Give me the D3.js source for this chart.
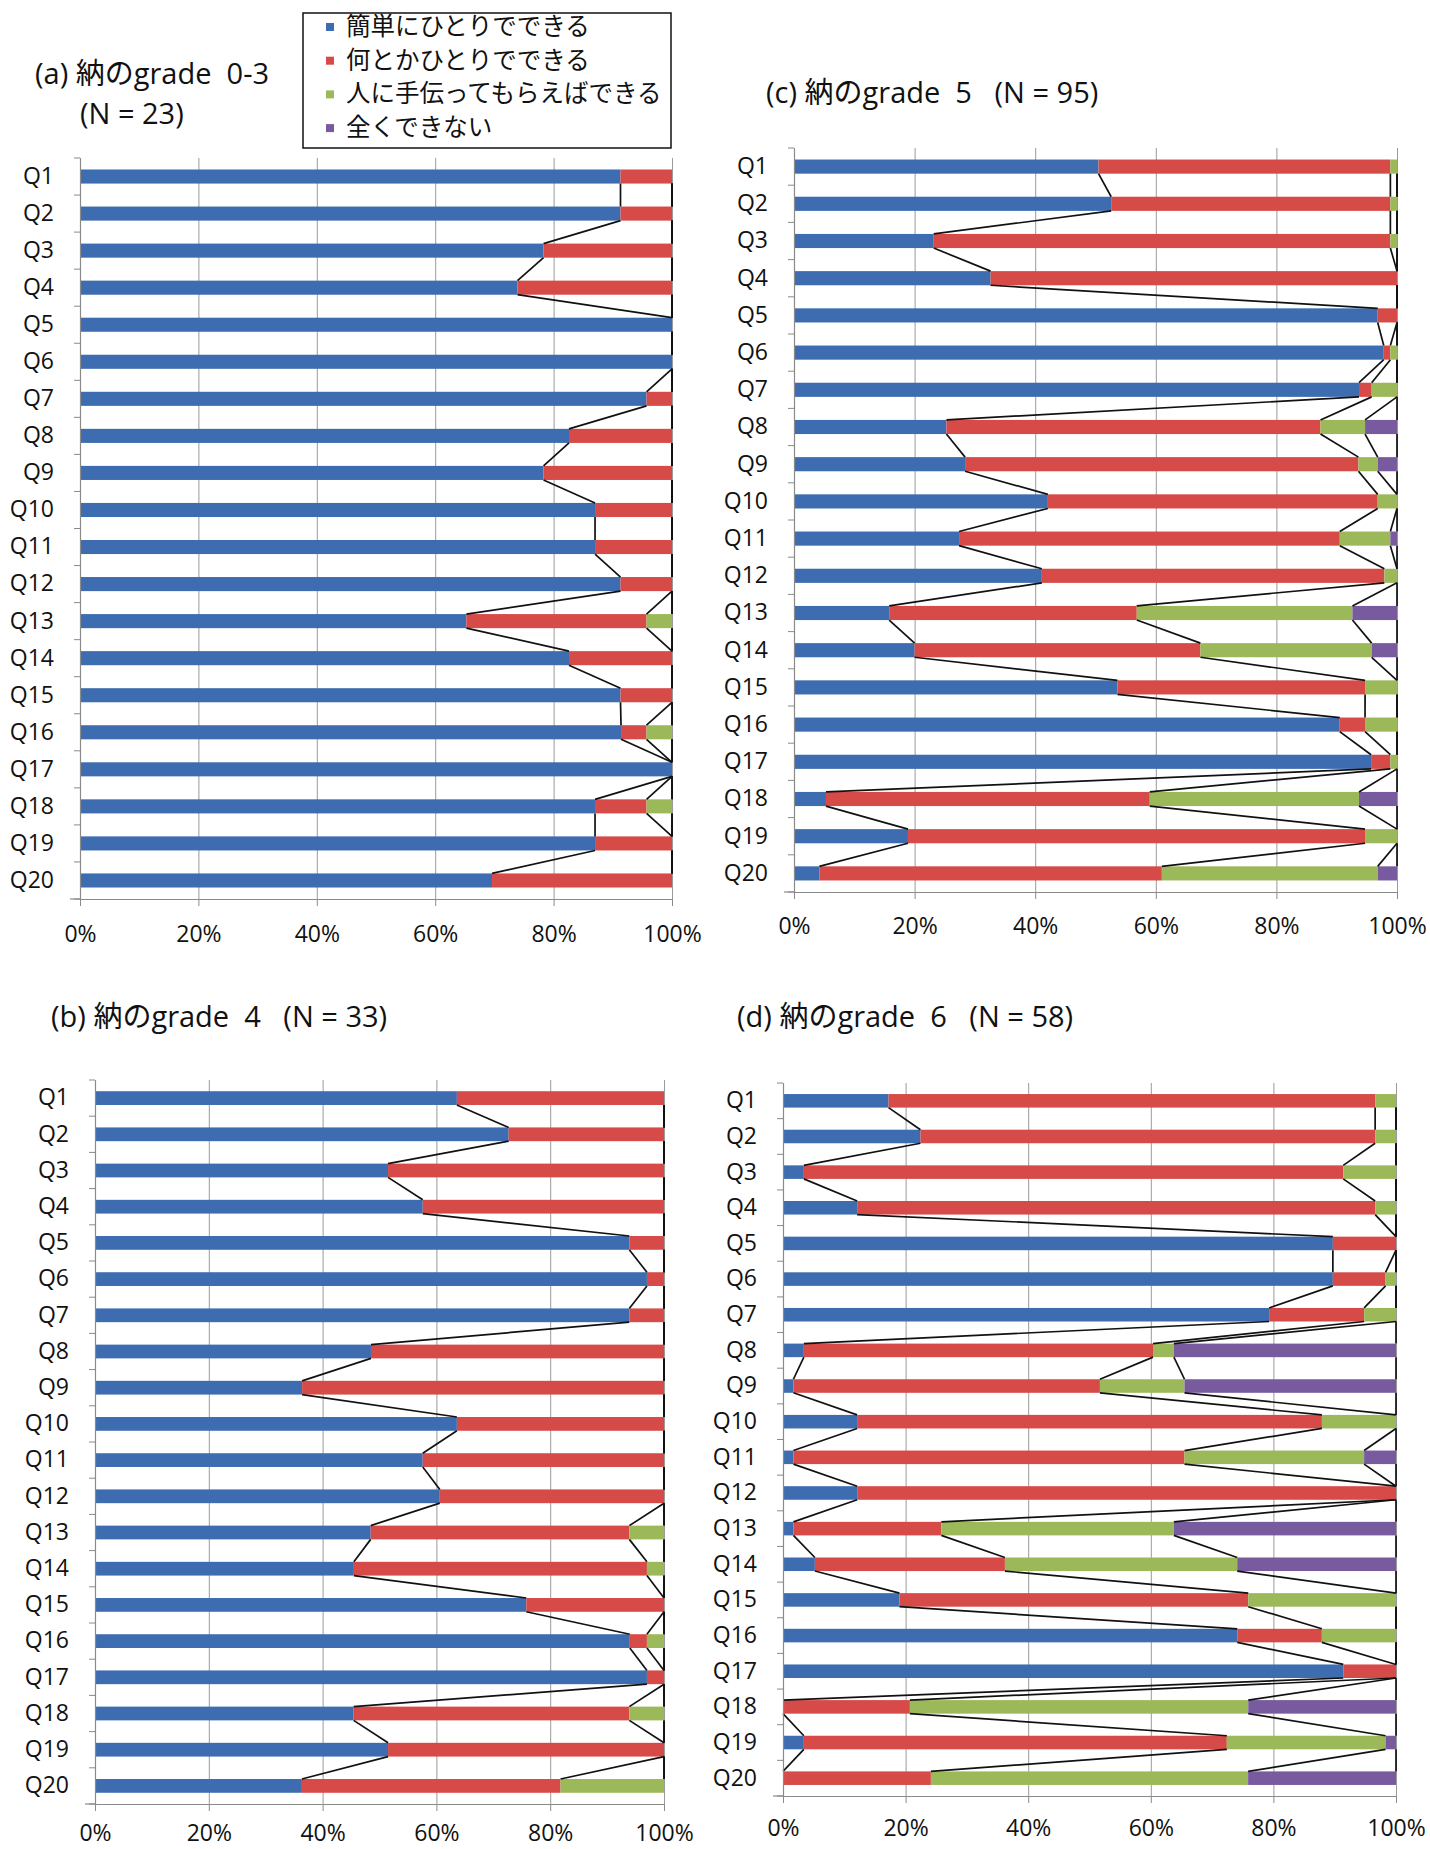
<!DOCTYPE html>
<html>
<head>
<meta charset="utf-8">
<script src="https://cdn.jsdelivr.net/npm/d3@7"></script>
<style>
  body { margin: 0; background: #fff; }
  text { font-family: "Open Sans", "Noto Sans CJK JP", sans-serif; fill: #111; }
  .title { white-space: pre; }
</style>
</head>
<body>
<svg id="chart" width="1430" height="1849"></svg>
<script>

// categories and legend
var questions = ["Q1","Q2","Q3","Q4","Q5","Q6","Q7","Q8","Q9","Q10",
                 "Q11","Q12","Q13","Q14","Q15","Q16","Q17","Q18","Q19","Q20"];
var legendLabels = ["簡単にひとりでできる", "何とかひとりでできる", "人に手伝ってもらえばできる", "全くできない"];
var xTicks = [0, 0.2, 0.4, 0.6, 0.8, 1];

// (a) grade 0-3, N = 23  (percent of answers)
var aEasy  = [91.3,91.3,78.3,73.9,100,100,95.7,82.6,78.3,87.0,87.0,91.3,65.2,82.6,91.3,91.3,100,87.0,87.0,69.6];
var aSome  = [8.7,8.7,21.7,26.1,0,0,4.3,17.4,21.7,13.0,13.0,8.7,30.4,17.4,8.7,4.3,0,8.7,13.0,30.4];
var aHelp  = [0,0,0,0,0,0,0,0,0,0,0,0,4.3,0,0,4.3,0,4.3,0,0];
var aNone  = [0,0,0,0,0,0,0,0,0,0,0,0,0,0,0,0,0,0,0,0];

// (b) grade 4, N = 33
var bEasy  = [63.6,72.7,51.5,57.6,93.9,97.0,93.9,48.5,36.4,63.6,57.6,60.6,48.5,45.5,75.8,93.9,97.0,45.5,51.5,36.4];
var bSome  = [36.4,27.3,48.5,42.4,6.1,3.0,6.1,51.5,63.6,36.4,42.4,39.4,45.5,51.5,24.2,3.0,3.0,48.5,48.5,45.5];
var bHelp  = [0,0,0,0,0,0,0,0,0,0,0,0,6.1,3.0,0,3.0,0,6.1,0,18.2];
var bNone  = [0,0,0,0,0,0,0,0,0,0,0,0,0,0,0,0,0,0,0,0];

// (c) grade 5, N = 95
var cEasy  = [50.5,52.6,23.2,32.6,96.8,97.9,93.7,25.3,28.4,42.1,27.4,41.1,15.8,20.0,53.7,90.5,95.8,5.3,18.9,4.2];
var cSome  = [48.4,46.3,75.8,67.4,3.2,1.1,2.1,62.1,65.3,54.7,63.2,56.8,41.1,47.4,41.1,4.2,3.2,53.7,75.8,56.8];
var cHelp  = [1.1,1.1,1.1,0,0,1.1,4.2,7.4,3.2,3.2,8.4,2.1,35.8,28.4,5.3,5.3,1.1,34.7,5.3,35.8];
var cNone  = [0,0,0,0,0,0,0,5.3,3.2,0,1.1,0,7.4,4.2,0,0,0,6.3,0,3.2];

// (d) grade 6, N = 58
var dEasy  = [17.2,22.4,3.4,12.1,89.7,89.7,79.3,3.4,1.7,12.1,1.7,12.1,1.7,5.2,19.0,74.1,91.4,0,3.4,0];
var dSome  = [79.3,74.1,87.9,84.5,10.3,8.6,15.5,56.9,50.0,75.9,63.8,87.9,24.1,31.0,56.9,13.8,8.6,20.7,69.0,24.1];
var dHelp  = [3.4,3.4,8.6,3.4,0,1.7,5.2,3.4,13.8,12.1,29.3,0,37.9,37.9,24.1,12.1,0,55.2,25.9,51.7];
var dNone  = [0,0,0,0,0,0,0,36.2,34.5,0,5.2,0,36.2,25.9,0,0,0,24.1,1.7,24.1];

var keys = ["easy", "some", "help", "none"];
var colors = ["#3d6db0", "#d64a47", "#9cb95a", "#785a9e"];

var svg = d3.select("#chart");
svg.append("rect").attr("width", 1430).attr("height", 1849).attr("fill", "#fff");

// panel placement
var panels = [
  { series: [aEasy, aSome, aHelp, aNone], x0: 80,  x1: 672,  y0: 158,  y1: 899,  pad: 20 },
  { series: [cEasy, cSome, cHelp, cNone], x0: 794, x1: 1397, y0: 148,  y1: 892,  pad: 19 },
  { series: [bEasy, bSome, bHelp, bNone], x0: 95,  x1: 664,  y0: 1080, y1: 1804, pad: 14 },
  { series: [dEasy, dSome, dHelp, dNone], x0: 783, x1: 1396, y0: 1083, y1: 1796, pad: 17 }
];

function drawPanel(p) {
  var rows = questions.map(function (q, i) {
    var r = { q: q };
    keys.forEach(function (k, j) { r[k] = p.series[j][i]; });
    return r;
  });
  var stacked = d3.stack().keys(keys).offset(d3.stackOffsetExpand)(rows);

  var x = d3.scaleLinear().domain([0, 1]).range([p.x0, p.x1]);
  var y = d3.scaleBand().domain(questions).range([p.y0, p.y1])
    .paddingInner(0.62).paddingOuter(0.31);

  var g = svg.append("g");

  // vertical gridlines
  g.append("g")
    .attr("transform", "translate(0," + p.y1 + ")")
    .call(d3.axisBottom(x).tickValues(xTicks).tickSize(-(p.y1 - p.y0)).tickFormat(""))
    .call(function (s) {
      s.select(".domain").remove();
      s.selectAll("line").attr("stroke", "#9a9a9a").attr("stroke-width", 1);
    });

  // stacked bars
  g.selectAll("g.series")
    .data(stacked)
    .enter().append("g")
      .attr("class", "series")
      .attr("fill", function (d, i) { return colors[i]; })
    .selectAll("rect")
    .data(function (d) { return d; })
    .enter().append("rect")
      .attr("x", function (d) { return x(d[0]); })
      .attr("width", function (d) { return Math.max(0, x(d[1]) - x(d[0])); })
      .attr("y", function (d) { return y(d.data.q); })
      .attr("height", y.bandwidth());

  // series lines between neighbouring bars
  stacked.forEach(function (s) {
    g.selectAll(null)
      .data(d3.pairs(s))
      .enter().append("line")
        .attr("x1", function (d) { return x(d[0][1]); })
        .attr("y1", function (d) { return y(d[0].data.q) + y.bandwidth(); })
        .attr("x2", function (d) { return x(d[1][1]); })
        .attr("y2", function (d) { return y(d[1].data.q); })
        .attr("stroke", "#111")
        .attr("stroke-width", 1.7);
  });

  // category axis
  var ya = g.append("g")
    .attr("transform", "translate(" + p.x0 + ",0)")
    .call(d3.axisLeft(y).tickSize(0).tickPadding(26))
    .attr("font-family", null).attr("font-size", null);
  ya.select(".domain").attr("stroke", "#8a8a8a").attr("stroke-width", 1.2);
  ya.selectAll("text").attr("font-size", 23).attr("fill", "#111");

  g.selectAll(null)
    .data(d3.range(questions.length + 1))
    .enter().append("line")
      .attr("x1", p.x0 - 6).attr("x2", p.x0)
      .attr("y1", function (i) { return p.y0 + i * y.step(); })
      .attr("y2", function (i) { return p.y0 + i * y.step(); })
      .attr("stroke", "#8a8a8a");

  // value axis
  var xa = g.append("g")
    .attr("transform", "translate(0," + p.y1 + ")")
    .call(d3.axisBottom(x).tickValues(xTicks).tickFormat(d3.format(".0%"))
      .tickSizeInner(7).tickSizeOuter(0).tickPadding(p.pad))
    .attr("font-family", null).attr("font-size", null);
  xa.select(".domain").attr("stroke", "#8a8a8a").attr("stroke-width", 1.2);
  xa.selectAll("line").attr("stroke", "#8a8a8a");
  xa.selectAll("text").attr("font-size", 23).attr("fill", "#111");
  g.append("line")
    .attr("x1", p.x0 - 10).attr("x2", p.x0)
    .attr("y1", p.y1).attr("y2", p.y1)
    .attr("stroke", "#8a8a8a").attr("stroke-width", 1.2);
}

panels.forEach(drawPanel);

// titles
function title(txt, tx, ty) {
  svg.append("text").attr("class", "title")
    .attr("x", tx).attr("y", ty).attr("dy", "0.36em")
    .attr("font-size", 29).text(txt);
}
title("(a) 納のgrade  0-3", 35, 74);
title("(N = 23)", 80, 114);
title("(c) 納のgrade  5   (N = 95)", 766, 93);
title("(b) 納のgrade  4   (N = 33)", 51, 1017);
title("(d) 納のgrade  6   (N = 58)", 737, 1017);

// legend
var legend = svg.append("g");
legend.append("rect")
  .attr("x", 303).attr("y", 13).attr("width", 368).attr("height", 135)
  .attr("fill", "#fff").attr("stroke", "#111").attr("stroke-width", 1.5);
var item = legend.selectAll("g.item")
  .data(legendLabels)
  .enter().append("g")
    .attr("class", "item")
    .attr("transform", function (d, i) { return "translate(326," + (26 + i * 33.7) + ")"; });
item.append("rect")
  .attr("x", 0).attr("y", -3).attr("width", 8).attr("height", 8)
  .attr("fill", function (d, i) { return colors[i]; });
item.append("text")
  .attr("x", 20).attr("dy", "0.36em")
  .attr("font-size", 24.5)
  .attr("font-family", "Noto Sans CJK JP")
  .text(function (d) { return d; });
</script>
</body>
</html>
